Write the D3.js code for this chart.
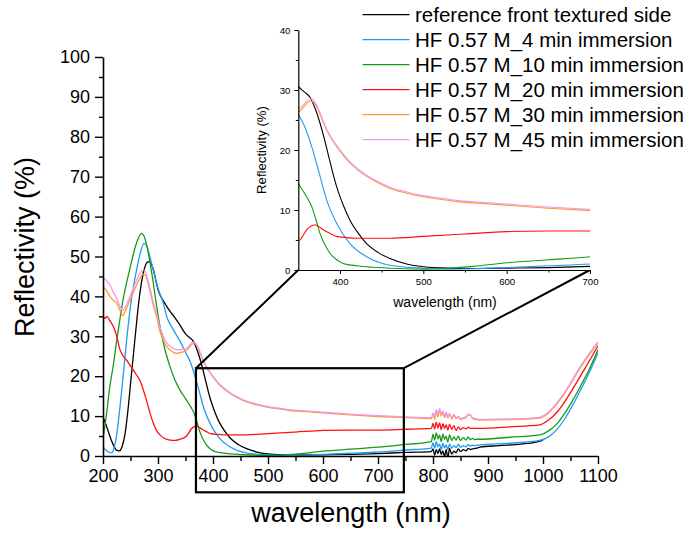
<!DOCTYPE html>
<html>
<head>
<meta charset="utf-8">
<script src="https://cdn.jsdelivr.net/npm/d3@7/dist/d3.min.js"></script>
<style>
html,body{margin:0;padding:0;background:#fff;}
svg{display:block;font-family:"Liberation Sans",Arial,Helvetica,sans-serif;}
</style>
</head>
<body>
<svg id="chart" width="688" height="533"></svg>
<script>
// ---------------- DATA (wavelength nm, reflectivity %) ----------------
const seriesNames = [
  "reference front textured side",
  "HF 0.57 M_4 min immersion",
  "HF 0.57 M_10 min immersion",
  "HF 0.57 M_20 min immersion",
  "HF 0.57 M_30 min immersion",
  "HF 0.57 M_45 min immersion"
];
const seriesColors = ["#000000", "#1e9cf0", "#189a18", "#ff1010", "#ff9a30", "#ee9aee"];

const refFront = [[200,9.8],[205,8],[210,6],[215,4],[220,2.4],[225,1.4],[230,1.3],[235,2.5],[240,5.5],[245,11],[250,18],[255,25],[260,32],[265,38.5],[270,43.5],[275,46.8],[280,48.5],[284,48.7],[288,48],[292,46.5],[296,44],[300,41.8],[305,40],[310,38.8],[320,36.6],[330,34.8],[340,32.8],[350,30.6],[358,29.6],[364,28.8],[370,27],[376,24.5],[381,22],[386,19.2],[391,16.4],[396,13.9],[404,10.8],[412,8.3],[422,6.1],[432,4.4],[446,2.9],[460,1.9],[480,1.0],[500,0.55],[520,0.35],[560,0.25],[600,0.3],[650,0.4],[700,0.6],[750,0.9],[797,1.1],
  [800,1.8],[803,0.2],[806,1.6],[809,0.6],[812,1.8],[815,0.4],[818,1.3],[821,-0.2],[824,1.6],[827,-0.5],[830,1.9],[834,0.5],[838,1.2],[842,0.8],[846,1.8],[850,1.1],[855,1.6],[860,1.3],[864,1.9],[868,1.6],[872,1.8],[876,1.9],[880,2.0],
  [885,2.2],[920,2.6],[960,3.0],[985,3.4],[1000,4.0]];

const hf4min = [[200,2.3],[205,1.5],[210,1.0],[216,0.8],[220,2],[225,5.5],[231,12.4],[238,22],[246,33],[253,40.5],[261,46.6],[268,51],[274.5,53.3],[280,52.5],[286,49.5],[291.5,46.6],[300,42],[309.6,38.3],[315.7,35],[328,31.6],[340,28.8],[350,26],[358,23.8],[366,20.6],[374,16.7],[384,11.7],[396,7.8],[412,4.4],[432,2.2],[460,0.8],[500,0.3],[530,0.15],[560,0.2],[600,0.4],[650,0.7],[700,1.0],[750,1.5],[797,2.0],
  [800,3.3],[803,2.0],[806,3.6],[809,2.3],[812,3.0],[815,1.6],[818,3.2],[821,2.0],[824,2.8],[827,1.6],[830,3.0],[834,2.0],[838,2.6],[842,2.1],[846,2.9],[850,2.2],[855,2.6],[860,2.3],[864,2.9],[868,2.5],[872,2.7],[876,2.6],[880,2.7],
  [885,2.8],[940,3.2],[994,3.9],[1010,4.8],[1025,6.6],[1040,9.4],[1055,13],[1070,17],[1085,21.2],[1100,25.8]];

const hf10min = [[200,4.5],[206,10],[212,17],[219,23],[225,29],[231,34.5],[237,39.5],[243,43.5],[249,47],[255,50.5],[262,53.8],[270,55.8],[275,55],[280,52.5],[285.5,48.5],[291.5,43.3],[297.6,37.5],[303.6,32.4],[312,27],[321.8,22.4],[330,19.3],[340,16.5],[350,14.4],[360,12.2],[366,10.6],[371,8.5],[376,6.1],[382,4.2],[388,2.8],[396,1.7],[404,1.1],[420,0.7],[440,0.45],[470,0.25],[500,0.15],[530,0.3],[560,0.6],[600,1.2],[650,1.7],[700,2.2],[750,2.9],[797,3.6],
  [800,5.5],[803,4.0],[806,5.8],[809,4.3],[812,5.2],[815,3.6],[818,5.5],[821,4.2],[824,5.0],[827,3.5],[830,5.3],[834,3.9],[838,4.8],[842,4.0],[846,5.0],[850,3.9],[855,4.6],[860,4.0],[864,4.8],[868,4.1],[872,4.4],[876,4.1],[880,4.2],
  [885,4.2],[940,4.7],[994,5.3],[1010,6.3],[1025,8],[1040,10.8],[1055,14.2],[1070,18],[1085,22],[1100,26.6]];

const hf20min = [[200,34.9],[204,34.5],[207,35],[212,34],[219,32.4],[225,30],[231,26.6],[237,25],[243,24],[249,22.8],[255,21.6],[261,20.3],[267,19],[273,16.7],[279,14],[285,11],[291.5,8.2],[297,6.5],[303.6,5.3],[312,4.4],[321.8,4],[331,3.9],[340,4.2],[348,4.6],[352,5.0],[356,5.8],[360,6.7],[365,7.3],[370,7.5],[375,7.2],[380,6.7],[388,6.1],[396,5.6],[408,5.4],[420,5.3],[460,5.3],[500,5.6],[550,6],[600,6.4],[650,6.5],[700,6.5],[750,6.7],[797,6.9],
  [800,8.2],[803,6.8],[806,8.5],[809,7],[812,8.3],[815,6.6],[818,8.1],[821,6.9],[824,7.8],[827,6.5],[830,8],[834,6.7],[838,7.6],[842,6.4],[846,7.3],[850,6.6],[855,7.1],[860,6.8],[864,7.2],[868,6.9],[872,7.0],[876,6.9],[880,6.9],
  [885,6.9],[940,7.3],[994,7.8],[1010,9],[1025,10.9],[1040,13.7],[1055,17],[1070,20.5],[1085,24],[1100,27.6]];

const hf30min = [[200,42.5],[206,41.5],[212.7,40],[219,39],[225,38.3],[231,36.5],[236,35.2],[241,36.5],[249,39.1],[255,41],[261,42.8],[267,44.5],[273,45.5],[277,45.4],[281,43.8],[285,41.6],[291,38],[297.6,34.9],[303,31.5],[309.7,29.1],[315,27.6],[321.8,26.6],[328,26],[334,25.7],[340,25.9],[346,26.1],[352,26.5],[358,27.4],[363,28.1],[367,28.1],[372,27.2],[378,25.3],[384,23.3],[390,21.8],[396,20.6],[404,19.1],[412,17.8],[422,16.6],[432,15.6],[446,14.5],[460,13.6],[480,12.8],[500,12.2],[520,11.8],[540,11.4],[570,11.1],[600,10.8],[650,10.3],[700,9.9],[750,9.6],[797,9.4],
  [800,10.5],[803,9.2],[806,11.2],[809,9.8],[812,11.6],[815,10],[818,11],[821,9.6],[824,10.8],[827,9.5],[830,10.5],[834,9.3],[838,10.2],[842,9.4],[846,9.8],[850,9.2],[855,9.4],[860,9.6],[864,10.3],[868,10.2],[872,9.4],[876,9.2],[880,9.1],
  [885,9],[940,9.1],[994,9.5],[1010,10.8],[1025,13],[1040,15.8],[1055,19.2],[1070,22.6],[1085,25.6],[1100,28.3]];

const hf45min = [[200,44.8],[206,44],[213,42.8],[219,41],[225,39.5],[231,37.5],[236,36.5],[241,37.5],[249,40],[255,42],[261,44],[267,45.8],[273,46.6],[277,46.2],[281,44.5],[285,42.3],[291,38.8],[297.6,35.5],[303,32.5],[309.7,30],[315,28.5],[321.8,27.5],[328,27],[334,26.6],[340,26.6],[346,26.8],[352,27],[358,27.8],[363,28.5],[367,28.5],[372,27.5],[378,25.5],[384,23.5],[390,22],[396,20.8],[404,19.3],[412,18],[422,16.8],[432,15.8],[446,14.7],[460,13.8],[480,13],[500,12.4],[520,12],[540,11.6],[570,11.3],[600,11],[650,10.5],[700,10.1],[750,9.8],[797,9.6],
  [800,10.8],[803,10],[806,11.6],[809,10.4],[812,11.9],[815,10.5],[818,11.3],[821,10.0],[824,11],[827,9.8],[830,10.7],[834,9.6],[838,10.4],[842,9.6],[846,9.9],[850,9.4],[855,9.6],[860,9.8],[864,10.5],[868,10.3],[872,9.6],[876,9.4],[880,9.3],
  [885,9.2],[940,9.3],[994,9.7],[1010,11],[1025,13.3],[1040,16.1],[1055,19.5],[1070,22.9],[1085,25.9],[1100,28.6]];

const allSeries = [refFront, hf4min, hf10min, hf20min, hf30min, hf45min];

const mainXTicks = [200,300,400,500,600,700,800,900,1000,1100];
const mainYTicks = [0,10,20,30,40,50,60,70,80,90,100];
const insetXTicks = [400,500,600,700];
const insetYTicks = [0,10,20,30,40];
const zoomBox = {x0:369, x1:747, y0:22, y1:-9.1};

// ---------------- LAYOUT ----------------
const svg = d3.select("#chart");
const FONT = "'Liberation Sans',Arial,Helvetica,sans-serif";

const x = d3.scaleLinear().domain([200,1100]).range([103,598]);
const y = d3.scaleLinear().domain([0,100]).range([456,57]);

const xi = d3.scaleLinear().domain([350,700]).range([298.3,590]);
const yi = d3.scaleLinear().domain([0,40]).range([270,30]);

const defs = svg.append("defs");
defs.append("clipPath").attr("id","clipMain").append("rect")
  .attr("x",103).attr("y",40).attr("width",495).attr("height",416);
defs.append("clipPath").attr("id","clipInset").append("rect")
  .attr("x",298.3).attr("y",30).attr("width",291.7).attr("height",240);

// ---------- Main chart lines ----------
const lineMain = d3.line().x(d=>x(d[0])).y(d=>y(d[1])).curve(d3.curveMonotoneX);
const gMain = svg.append("g").attr("clip-path","url(#clipMain)");
allSeries.forEach((s,i)=>{
  gMain.append("path").datum(s).attr("d",lineMain)
    .attr("fill","none").attr("stroke",seriesColors[i]).attr("stroke-width",1.3)
    .attr("stroke-linejoin","round");
});

// ---------- Main axes ----------
function styleAxis(g, fs){
  g.selectAll("path.domain").attr("stroke","#000").attr("stroke-width",1.6);
  g.selectAll(".tick line").attr("stroke","#000").attr("stroke-width",1.4);
  g.selectAll(".tick text").attr("fill","#000").style("font-family",FONT).style("font-size",fs+"px");
}
const xAxisG = svg.append("g").attr("transform","translate(0,456)")
  .call(d3.axisBottom(x).tickValues(mainXTicks).tickSize(8).tickSizeOuter(0).tickPadding(5).tickFormat(d3.format("d")));
styleAxis(xAxisG,18);
svg.append("g").attr("transform","translate(0,456)")
  .call(d3.axisBottom(x).tickValues(d3.range(250,1100,100)).tickSize(5).tickSizeOuter(0).tickFormat(""))
  .call(g=>{g.select("path.domain").remove(); g.selectAll("line").attr("stroke","#000").attr("stroke-width",1.4);});

const yAxisG = svg.append("g").attr("transform","translate(103,0)")
  .call(d3.axisLeft(y).tickValues(mainYTicks).tickSize(8).tickSizeOuter(0).tickPadding(5));
styleAxis(yAxisG,18);
svg.append("g").attr("transform","translate(103,0)")
  .call(d3.axisLeft(y).tickValues(d3.range(5,100,10)).tickSize(4).tickSizeOuter(0).tickFormat(""))
  .call(g=>{g.select("path.domain").remove(); g.selectAll("line").attr("stroke","#000").attr("stroke-width",1.4);});

svg.append("text").attr("x",351).attr("y",522).attr("text-anchor","middle")
  .style("font-family",FONT).style("font-size","27px").text("wavelength (nm)");
svg.append("text").attr("transform","translate(34,247) rotate(-90)").attr("text-anchor","middle")
  .style("font-family",FONT).style("font-size","27px").text("Reflectivity (%)");

// ---------- Zoom box & connectors ----------
svg.append("rect")
  .attr("x",x(zoomBox.x0)).attr("y",y(zoomBox.y0))
  .attr("width",x(zoomBox.x1)-x(zoomBox.x0)).attr("height",y(zoomBox.y1)-y(zoomBox.y0))
  .attr("fill","none").attr("stroke","#000").attr("stroke-width",2.2);
svg.append("line").attr("x1",x(zoomBox.x0)).attr("y1",y(zoomBox.y0)).attr("x2",xi(350)).attr("y2",yi(0))
  .attr("stroke","#000").attr("stroke-width",2);
svg.append("line").attr("x1",x(zoomBox.x1)).attr("y1",y(zoomBox.y0)).attr("x2",xi(700)).attr("y2",yi(0))
  .attr("stroke","#000").attr("stroke-width",2);

// ---------- Inset ----------
svg.append("rect").attr("x",298.3).attr("y",30).attr("width",291.7).attr("height",240).attr("fill","#fff");
const lineInset = d3.line().x(d=>xi(d[0])).y(d=>yi(d[1])).curve(d3.curveMonotoneX);
const gIn = svg.append("g").attr("clip-path","url(#clipInset)");
allSeries.forEach((s,i)=>{
  gIn.append("path").datum(s.filter(d=>d[0]>=330 && d[0]<=760)).attr("d",lineInset)
    .attr("fill","none").attr("stroke",seriesColors[i]).attr("stroke-width",1.1);
});
function styleInset(g){
  g.selectAll("path.domain").attr("stroke","#000").attr("stroke-width",1.2);
  g.selectAll(".tick line").attr("stroke","#000").attr("stroke-width",1);
  g.selectAll(".tick text").attr("fill","#000").style("font-family",FONT).style("font-size","9.6px");
}
const xiG = svg.append("g").attr("transform","translate(0,270)")
  .call(d3.axisBottom(xi).tickValues(insetXTicks).tickSize(4).tickSizeOuter(0).tickPadding(4).tickFormat(d3.format("d")));
styleInset(xiG);
svg.append("g").attr("transform","translate(0,270)")
  .call(d3.axisBottom(xi).tickValues([450,550,650]).tickSize(2.5).tickSizeOuter(0).tickFormat(""))
  .call(g=>{g.select("path.domain").remove(); g.selectAll("line").attr("stroke","#000");});
const yiG = svg.append("g").attr("transform","translate(298.3,0)")
  .call(d3.axisLeft(yi).tickValues(insetYTicks).tickSize(4).tickSizeOuter(0).tickPadding(4));
styleInset(yiG);
svg.append("g").attr("transform","translate(298.3,0)")
  .call(d3.axisLeft(yi).tickValues([5,15,25,35]).tickSize(2.5).tickSizeOuter(0).tickFormat(""))
  .call(g=>{g.select("path.domain").remove(); g.selectAll("line").attr("stroke","#000");});
svg.append("text").attr("x",445).attr("y",306.5).attr("text-anchor","middle")
  .style("font-family",FONT).style("font-size","14px").text("wavelength (nm)");
svg.append("text").attr("transform","translate(266,150) rotate(-90)").attr("text-anchor","middle")
  .style("font-family",FONT).style("font-size","13.2px").text("Reflectivity (%)");

// ---------- Legend ----------
const leg = svg.append("g");
seriesNames.forEach((name,i)=>{
  const by = 21.7 + i*25;
  leg.append("line").attr("x1",362.5).attr("x2",409.5).attr("y1",by-7).attr("y2",by-7)
    .attr("stroke",seriesColors[i]).attr("stroke-width",1.3);
  leg.append("text").attr("x",415).attr("y",by)
    .style("font-family",FONT).style("font-size","20.5px").attr("fill","#000").text(name);
});
</script>
</body>
</html>
